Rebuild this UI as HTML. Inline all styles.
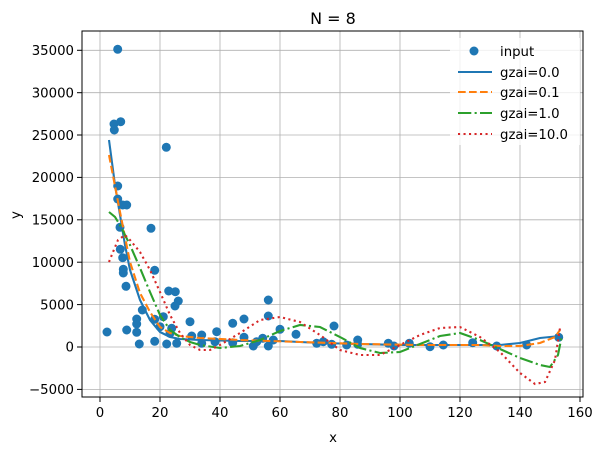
<!DOCTYPE html>
<html><head><meta charset="utf-8"><style>
body{margin:0;background:#fff}
svg{font-family:"DejaVu Sans","Liberation Sans",sans-serif}
</style></head><body>
<svg width="603" height="455" viewBox="0 0 603 455" xmlns="http://www.w3.org/2000/svg">
<rect width="603" height="455" fill="#fff"/>
<g stroke="#b0b0b0" stroke-width="0.8">
<line x1="100" y1="31" x2="100" y2="397"/><line x1="160" y1="31" x2="160" y2="397"/><line x1="220" y1="31" x2="220" y2="397"/><line x1="280" y1="31" x2="280" y2="397"/><line x1="340" y1="31" x2="340" y2="397"/><line x1="400" y1="31" x2="400" y2="397"/><line x1="460" y1="31" x2="460" y2="397"/><line x1="520" y1="31" x2="520" y2="397"/><line x1="580" y1="31" x2="580" y2="397"/>
<line x1="82" y1="50.3" x2="583" y2="50.3"/><line x1="82" y1="92.7" x2="583" y2="92.7"/><line x1="82" y1="135" x2="583" y2="135"/><line x1="82" y1="177.4" x2="583" y2="177.4"/><line x1="82" y1="219.8" x2="583" y2="219.8"/><line x1="82" y1="262.2" x2="583" y2="262.2"/><line x1="82" y1="304.6" x2="583" y2="304.6"/><line x1="82" y1="347" x2="583" y2="347"/><line x1="82" y1="389.4" x2="583" y2="389.4"/>
</g>
<g fill="#1f77b4">
<circle cx="107" cy="332" r="4.5"/><circle cx="117.7" cy="49.3" r="4.5"/><circle cx="114" cy="124" r="4.5"/><circle cx="120.7" cy="121.7" r="4.5"/><circle cx="114.3" cy="130" r="4.5"/><circle cx="166.3" cy="147.3" r="4.5"/><circle cx="117.7" cy="186" r="4.5"/><circle cx="117.7" cy="199" r="4.5"/><circle cx="122.7" cy="205" r="4.5"/><circle cx="126.7" cy="205" r="4.5"/>
<circle cx="120" cy="227.3" r="4.5"/><circle cx="120.3" cy="249.3" r="4.5"/><circle cx="122.7" cy="257.7" r="4.5"/><circle cx="123.3" cy="269.3" r="4.5"/><circle cx="123.3" cy="273" r="4.5"/><circle cx="126" cy="286.3" r="4.5"/><circle cx="151" cy="228.3" r="4.5"/><circle cx="154.7" cy="270.3" r="4.5"/><circle cx="126.7" cy="330" r="4.5"/><circle cx="142.3" cy="310" r="4.5"/><circle cx="136.7" cy="319" r="4.5"/><circle cx="136.7" cy="324" r="4.5"/><circle cx="136.7" cy="332.3" r="4.5"/><circle cx="139.3" cy="344" r="4.5"/><circle cx="154.7" cy="319.3" r="4.5"/><circle cx="154.7" cy="341.3" r="4.5"/><circle cx="160" cy="326.7" r="4.5"/><circle cx="163.3" cy="316.7" r="4.5"/><circle cx="168.7" cy="291" r="4.5"/><circle cx="175.3" cy="291.7" r="4.5"/><circle cx="178.3" cy="301" r="4.5"/><circle cx="175" cy="306" r="4.5"/><circle cx="166.7" cy="344" r="4.5"/><circle cx="170" cy="333.3" r="4.5"/><circle cx="171.7" cy="328.3" r="4.5"/><circle cx="176.7" cy="343.3" r="4.5"/><circle cx="190" cy="321.7" r="4.5"/><circle cx="191.7" cy="336" r="4.5"/><circle cx="201.7" cy="335" r="4.5"/><circle cx="201.7" cy="343.3" r="4.5"/><circle cx="215" cy="341.7" r="4.5"/><circle cx="216.7" cy="331.7" r="4.5"/><circle cx="232.7" cy="323.3" r="4.5"/><circle cx="232.7" cy="342.7" r="4.5"/><circle cx="244" cy="319" r="4.5"/><circle cx="244" cy="337.3" r="4.5"/><circle cx="253.3" cy="346" r="4.5"/><circle cx="256.7" cy="341.7" r="4.5"/><circle cx="262.7" cy="338.3" r="4.5"/><circle cx="268.3" cy="300" r="4.5"/><circle cx="268.3" cy="316" r="4.5"/><circle cx="268.3" cy="346" r="4.5"/><circle cx="273.3" cy="340" r="4.5"/><circle cx="280" cy="329.3" r="4.5"/><circle cx="296" cy="334.3" r="4.5"/><circle cx="316.7" cy="343.3" r="4.5"/>
<circle cx="334" cy="326" r="4.5"/><circle cx="323.3" cy="341.7" r="4.5"/><circle cx="331.7" cy="344.3" r="4.5"/><circle cx="346.7" cy="345" r="4.5"/><circle cx="357.7" cy="340" r="4.5"/><circle cx="357.7" cy="344.3" r="4.5"/><circle cx="388.3" cy="343.3" r="4.5"/><circle cx="394" cy="346" r="4.5"/><circle cx="409.3" cy="343.3" r="4.5"/><circle cx="430" cy="346.7" r="4.5"/><circle cx="443.3" cy="345" r="4.5"/><circle cx="472.7" cy="342.7" r="4.5"/><circle cx="496.7" cy="346" r="4.5"/><circle cx="526.7" cy="345" r="4.5"/><circle cx="558.7" cy="337.3" r="4.5"/>
</g>
<g fill="none" stroke-width="2.1">
<polyline stroke="#1f77b4" points="109,140 115,185 120,215 125,245 130,270 140,300 150,320 160,332 170,337 180,339 200,340 240,341 280,341 320,343 360,344 400,345 440,345 480,345 500,345 520,343 540,338 560,336"/>
<polyline stroke="#ff7f0e" stroke-dasharray="7.7,3.3" points="109,155 120,212 130,262 140,293 150,312 160,327 170,333 180,336 200,338 240,340 300,342 360,344 420,345 480,345 500,346 520,346 540,343 555,337 560,330"/>
<polyline stroke="#2ca02c" stroke-dasharray="13.3,3.3,2.1,3.3" points="109,212 115,217 120,225 130,245 140,268 150,292 160,315 170,330 180,337 190,342 200,345 220,348 240,346 260,340 280,331 300,325 320,327 340,337 360,348 380,353 400,352 420,344 440,336 460,333 480,340 500,349 520,358 540,365 550,367 558,355 562,335"/>
<polyline stroke="#d62728" stroke-dasharray="2.1,3.4" points="109,262 113,252 118,240 125,235 130,240 140,252 150,270 160,292 170,315 180,333 190,345 200,350 210,350 220,345 240,333 260,320 280,317 300,322 320,335 340,350 360,355 380,355 400,345 420,335 440,328 460,327 480,337 500,352 520,373 535,384 545,382 555,360 560,328"/>
</g>
<rect x="82" y="31" width="501" height="366" fill="none" stroke="#000" stroke-width="1"/>
<g stroke="#000">
<line x1="100" y1="397" x2="100" y2="402"/><line x1="160" y1="397" x2="160" y2="402"/><line x1="220" y1="397" x2="220" y2="402"/><line x1="280" y1="397" x2="280" y2="402"/><line x1="340" y1="397" x2="340" y2="402"/><line x1="400" y1="397" x2="400" y2="402"/><line x1="460" y1="397" x2="460" y2="402"/><line x1="520" y1="397" x2="520" y2="402"/><line x1="580" y1="397" x2="580" y2="402"/>
<line x1="77" y1="50.3" x2="82" y2="50.3"/><line x1="77" y1="92.7" x2="82" y2="92.7"/><line x1="77" y1="135" x2="82" y2="135"/><line x1="77" y1="177.4" x2="82" y2="177.4"/><line x1="77" y1="219.8" x2="82" y2="219.8"/><line x1="77" y1="262.2" x2="82" y2="262.2"/><line x1="77" y1="304.6" x2="82" y2="304.6"/><line x1="77" y1="347" x2="82" y2="347"/><line x1="77" y1="389.4" x2="82" y2="389.4"/>
</g>
<g font-size="13.3" fill="#000" text-anchor="middle">
<text x="100" y="417">0</text><text x="160" y="417">20</text><text x="220" y="417">40</text><text x="280" y="417">60</text><text x="340" y="417">80</text><text x="400" y="417">100</text><text x="460" y="417">120</text><text x="520" y="417">140</text><text x="580" y="417">160</text>
<text x="333" y="442">x</text>
<text x="20" y="215" transform="rotate(-90 20 215)">y</text>
<text x="333" y="24" font-size="16">N = 8</text>
</g>
<g font-size="13.3" fill="#000" text-anchor="end">
<text x="74" y="55">35000</text><text x="74" y="97.5">30000</text><text x="74" y="139.8">25000</text><text x="74" y="182.2">20000</text><text x="74" y="224.5">15000</text><text x="74" y="267">10000</text><text x="74" y="309.4">5000</text><text x="74" y="351.7">0</text><text x="74" y="394">−5000</text>
</g>
<rect x="450" y="38" width="130" height="107" fill="#fff" opacity="0.8"/>
<circle cx="474" cy="51" r="4.5" fill="#1f77b4"/>
<g stroke-width="2.1" fill="none">
<line x1="458" y1="72" x2="492" y2="72" stroke="#1f77b4"/>
<line x1="458" y1="92" x2="492" y2="92" stroke="#ff7f0e" stroke-dasharray="7.7,3.3"/>
<line x1="458" y1="113" x2="492" y2="113" stroke="#2ca02c" stroke-dasharray="13.3,3.3,2.1,3.3"/>
<line x1="458" y1="134" x2="492" y2="134" stroke="#d62728" stroke-dasharray="2.1,3.4"/>
</g>
<g font-size="13.3" fill="#000">
<text x="500" y="56">input</text><text x="500" y="77">gzai=0.0</text><text x="500" y="97">gzai=0.1</text><text x="500" y="118">gzai=1.0</text><text x="500" y="139">gzai=10.0</text>
</g>
</svg>
</body></html>
